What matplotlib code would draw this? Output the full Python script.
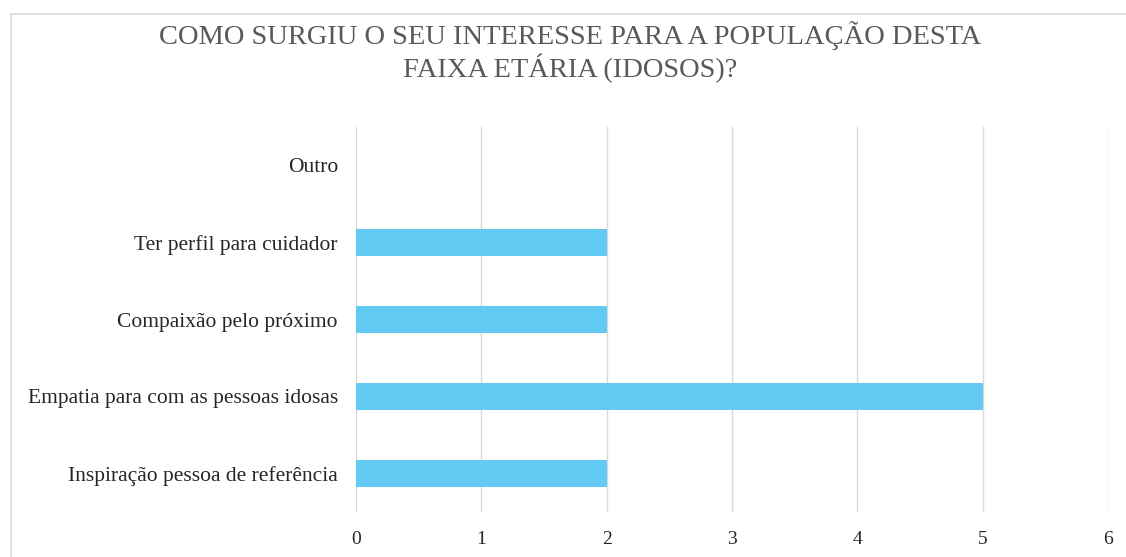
import matplotlib.pyplot as plt
from matplotlib.patches import Rectangle

# Données
categorias = ["Inspiração pessoa de referência", "Empatia para com as pessoas idosas",
              "Compaixão pelo próximo", "Ter perfil para cuidador", "Outro"]
valores = [2, 5, 2, 2, 0]
ticks_x = [0, 1, 2, 3, 4, 5, 6]

plt.rcParams['font.family'] = ['Liberation Serif', 'DejaVu Serif']

fig = plt.figure(figsize=(11.26, 5.57), dpi=100)
ax = fig.add_axes([356/1126, 1-512/557, (1108-356)/1126, (512-127)/557])

# Cadre du graphique
fig.patches.append(Rectangle((11/1126, -0.2), 1.2, 1.2-14/557, transform=fig.transFigure,
                             fill=False, edgecolor='#d9d9d9', linewidth=1.2))

ax.barh(range(len(categorias)), valores, height=0.34, color='#63CBF3', zorder=3)
ax.set_xlim(0, 6)
ax.set_ylim(-0.5, len(categorias)-0.5)
ax.set_xticks(ticks_x)
ax.set_yticks(range(len(categorias)))
ax.set_yticklabels(categorias)
ax.grid(axis='x', color='#d9d9d9', linewidth=1, zorder=0)
for s in ax.spines.values():
    s.set_visible(False)
ax.tick_params(axis='both', length=0, colors='#262626')
ax.tick_params(axis='x', pad=14, labelsize=14)
ax.tick_params(axis='y', pad=13, labelsize=15.5)

fig.text(570/1126, 1-52/557, "COMO SURGIU O SEU INTERESSE PARA A POPULAÇÃO DESTA\nFAIXA ETÁRIA (IDOSOS)?",
         ha='center', va='center', fontsize=20.5, color='#595959', linespacing=1.15)

fig.savefig("out.png", dpi=100)
